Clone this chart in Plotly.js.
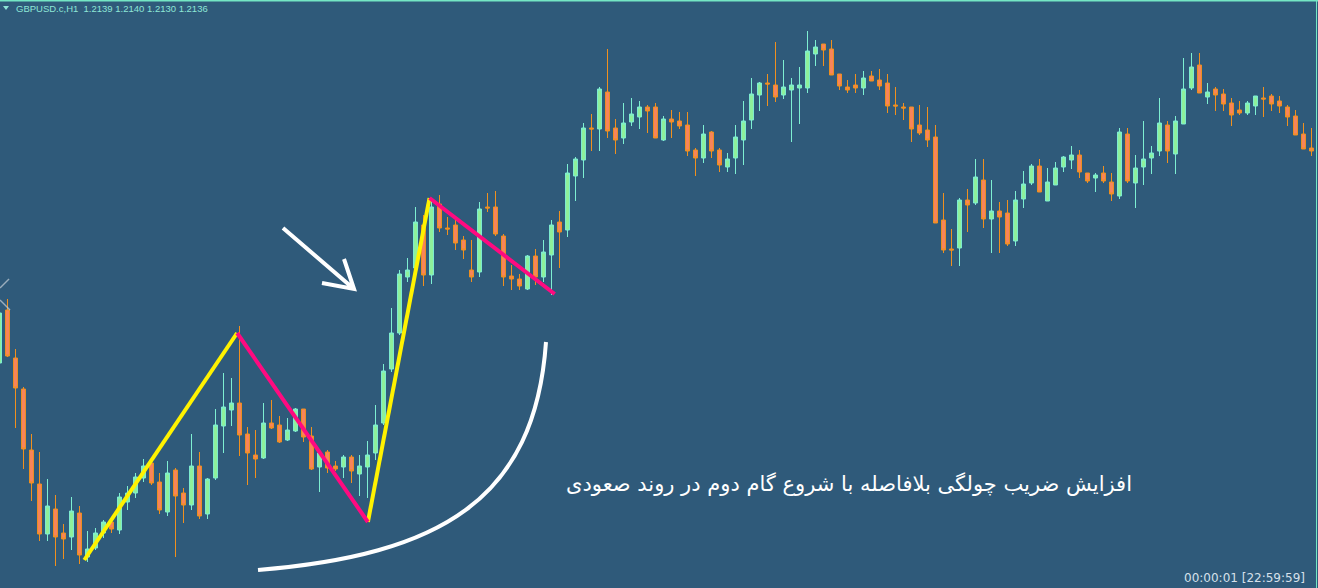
<!DOCTYPE html>
<html>
<head>
<meta charset="utf-8">
<script src="https://cdn.plot.ly/plotly-3.0.1.min.js"></script>
<style>
html,body{margin:0;padding:0;background:#2f5a7a;overflow:hidden}
#chart{width:1318px;height:588px}
</style>
</head>
<body>
<div id="chart"></div>
<script>
// Hourly GBPUSD.c H1 candles.
// Prices are given in points below the 1.22000 reference level (1 point = 0.00005).
const openPts  = [363,310,358,389,450,484,534,509,533,537,513,557,548,533,522,530,502,493,478,463,482,512,470,493,505,466,514,478,426,410,403,434,455,458,423,425,440,431,409,436,467,452,466,467,457,474,467,453,423,369,333,277,268,225,275,204,228,225,240,270,272,207,207,236,276,279,289,256,277,255,222,230,176,160,128,129,92,128,138,122,117,107,107,140,119,121,125,150,158,132,150,167,158,140,120,95,83,85,95,90,88,88,54,44,49,74,87,85,88,76,80,83,105,107,107,125,130,137,220,249,248,200,203,180,219,211,213,241,199,183,166,201,185,167,160,155,173,178,173,182,196,134,183,167,158,151,125,154,124,88,65,97,89,94,103,110,113,106,98,96,101,107,116,134,148];
const highPts  = [305,299,349,387,434,452,479,495,524,497,506,531,528,520,519,493,486,473,459,461,473,461,468,488,434,452,478,409,373,378,326,427,430,403,400,416,418,408,409,427,450,450,461,455,455,455,441,405,364,308,270,258,207,215,198,195,217,220,236,240,202,193,191,234,265,274,255,249,240,220,211,164,157,123,114,87,49,119,103,98,101,105,103,116,110,112,112,148,125,131,148,153,125,101,78,82,74,42,60,78,67,31,40,44,40,74,80,74,71,71,69,74,87,103,107,105,107,125,193,229,198,189,159,159,180,202,200,191,171,164,159,168,162,156,146,150,173,173,166,173,128,128,155,121,146,98,121,116,58,53,53,83,87,89,98,101,101,96,87,94,96,105,110,123,128];
const lowPts   = [370,357,428,469,501,541,541,566,559,550,564,562,550,538,533,534,510,498,482,485,514,516,557,523,510,519,519,480,453,426,456,485,478,459,429,443,441,432,442,470,492,473,471,478,483,496,498,460,425,372,335,282,275,286,284,232,235,250,259,282,277,212,236,286,290,290,290,285,282,295,268,237,201,178,151,151,138,154,144,126,129,133,138,141,138,129,156,176,163,158,172,172,174,165,129,111,106,102,99,142,124,93,66,66,75,90,93,93,95,81,90,113,115,120,142,135,147,223,253,266,266,232,205,228,253,253,246,246,208,185,192,201,185,172,169,178,183,192,183,201,199,183,208,185,174,156,163,174,124,90,93,104,111,111,126,115,115,115,117,111,113,126,135,149,156];
const closePts = [313,356,388,449,483,534,506,537,539,511,555,549,533,522,529,497,493,477,466,483,510,473,496,505,466,516,479,425,407,403,435,453,459,423,428,442,430,409,437,469,453,468,469,457,471,466,455,425,371,333,274,270,222,275,207,228,229,243,250,277,209,208,234,277,279,286,256,277,252,225,232,173,159,128,129,89,131,140,123,114,107,111,138,119,122,126,151,158,134,151,165,159,137,121,94,83,84,97,87,85,85,51,47,50,75,86,90,88,78,81,86,106,106,108,129,133,140,223,250,250,200,205,177,219,211,217,244,200,184,166,192,182,168,157,155,172,181,175,181,194,132,181,168,159,153,123,151,121,89,67,93,92,95,104,115,113,103,96,99,104,106,117,135,149,151];

// Zigzag swing points drawn on the chart (hour index, points below reference)
const zigHours = [10.6, 29.7, 46.05, 53.75, 69.4];
const zigPts   = [560, 333, 522, 198, 294];

const headerText = 'GBPUSD.c,H1  1.2139 1.2140 1.2130 1.2136';
const timerText  = '00:00:01 [22:59:59]';
const noteText   = 'افزایش ضریب چولگی بلافاصله با شروع گام دوم در روند صعودی';

const REF = 1.22, STEP = 0.00005;
const toPrice = d => +(REF - d * STEP).toFixed(5);
const hours = openPts.map((_, i) => i);

const W = 1318, H = 588;
const P = (x, y) => (x / W).toFixed(5) + ',' + (1 - y / H).toFixed(5);

const BG = '#2f5a7a';

const candles = {
  type: 'candlestick',
  x: hours,
  open: openPts.map(toPrice),
  high: highPts.map(toPrice),
  low: lowPts.map(toPrice),
  close: closePts.map(toPrice),
  increasing: {line: {color: '#7eefd2', width: 1}, fillcolor: '#8ff09a'},
  decreasing: {line: {color: '#f0901e', width: 1}, fillcolor: '#f7845c'},
  whiskerwidth: 0,
  hoverinfo: 'skip',
  showlegend: false
};

const yellowLegs = {
  type: 'scatter', mode: 'lines',
  x: [zigHours[0], zigHours[1], null, zigHours[2], zigHours[3]],
  y: [zigPts[0], zigPts[1], null, zigPts[2], zigPts[3]].map(v => v === null ? null : toPrice(v)),
  line: {color: '#fff200', width: 4},
  hoverinfo: 'skip', showlegend: false
};
const pinkLegs = {
  type: 'scatter', mode: 'lines',
  x: [zigHours[1], zigHours[2], null, zigHours[3], zigHours[4]],
  y: [zigPts[1], zigPts[2], null, zigPts[3], zigPts[4]].map(v => v === null ? null : toPrice(v)),
  line: {color: '#ff0a80', width: 4},
  hoverinfo: 'skip', showlegend: false
};

const layout = {
  width: W, height: H,
  margin: {l: 0, r: 0, t: 0, b: 0, pad: 0},
  paper_bgcolor: BG, plot_bgcolor: BG,
  boxgap: 0.3,
  hovermode: false,
  showlegend: false,
  xaxis: {type: 'linear', range: [0.0625, 164.8125], visible: false, fixedrange: true, rangeslider: {visible: false}},
  yaxis: {range: [toPrice(H), toPrice(0)], visible: false, fixedrange: true},
  shapes: [
    {type: 'line', xref: 'paper', yref: 'paper', x0: 0, x1: 1, y0: 1 - 0.8 / H, y1: 1 - 0.8 / H, line: {color: '#74e6c4', width: 1.6}},
    {type: 'line', xref: 'paper', yref: 'paper', x0: 1 - 1.5 / W, x1: 1 - 1.5 / W, y0: 0, y1: 1, line: {color: '#74e6c4', width: 1}},
    {type: 'path', xref: 'paper', yref: 'paper', path: 'M' + P(0, 288) + 'L' + P(9, 279), line: {color: 'rgba(200,208,216,0.7)', width: 1.5}},
    {type: 'path', xref: 'paper', yref: 'paper', path: 'M' + P(0, 300) + 'L' + P(10, 310), line: {color: 'rgba(200,208,216,0.7)', width: 1.5}},
    {type: 'path', xref: 'paper', yref: 'paper', path: 'M' + P(283, 228) + 'L' + P(354, 289) + 'M' + P(344, 259) + 'L' + P(354, 289) + 'L' + P(322, 283), line: {color: '#ffffff', width: 4}},
    {type: 'path', xref: 'paper', yref: 'paper', path: 'M' + P(258, 570) + 'C' + P(440, 555) + ' ' + P(535, 500) + ' ' + P(546, 342), line: {color: '#ffffff', width: 4}},
    {type: 'path', xref: 'paper', yref: 'paper', path: 'M' + P(3, 6) + 'L' + P(9, 6) + 'L' + P(6, 10) + 'Z', fillcolor: '#8de6d6', line: {width: 0}}
  ],
  annotations: [
    {xref: 'paper', yref: 'paper', x: 14 / W, y: 1 - 8.5 / H, xanchor: 'left', yanchor: 'middle', showarrow: false,
     text: headerText, font: {family: 'Liberation Sans, Arial, sans-serif', size: 9.5, color: '#8de6d6'}},
    {xref: 'paper', yref: 'paper', x: 1307 / W, y: 1 - 578 / H, xanchor: 'right', yanchor: 'middle', showarrow: false,
     text: timerText, font: {family: 'DejaVu Sans, sans-serif', size: 12, color: '#d6e0ea'}},
    {xref: 'paper', yref: 'paper', x: 848.5 / W, y: 1 - 484 / H, xanchor: 'center', yanchor: 'middle', showarrow: false,
     text: noteText, font: {family: 'DejaVu Sans, sans-serif', size: 21, color: '#ffffff'}}
  ]
};

Plotly.newPlot('chart', [candles, yellowLegs, pinkLegs], layout, {staticPlot: true, displayModeBar: false});
</script>
</body>
</html>
